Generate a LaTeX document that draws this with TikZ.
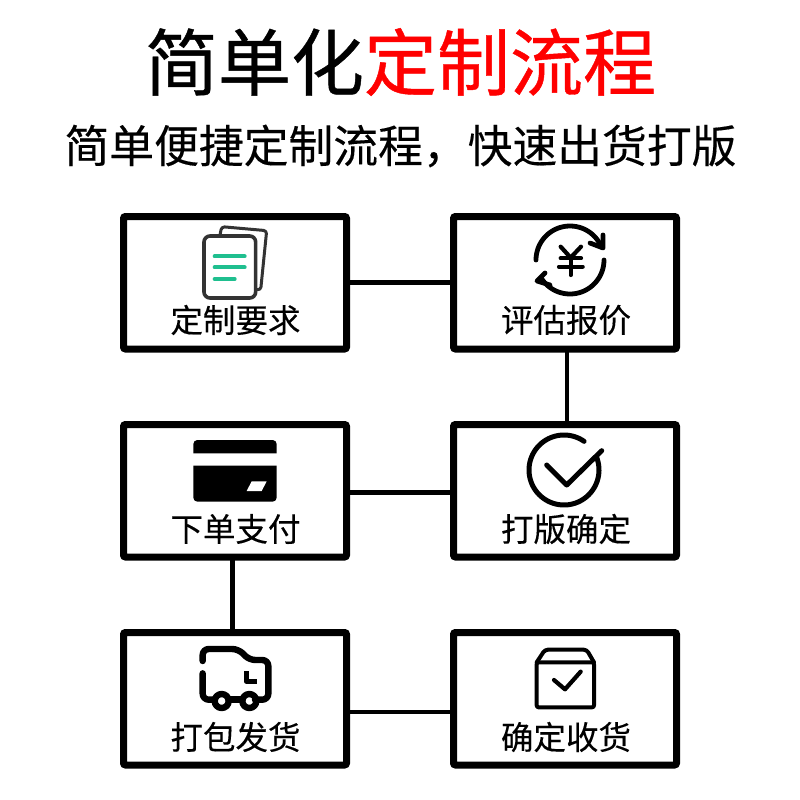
\documentclass[tikz,border=0pt]{standalone}
\usepackage{fontspec}
\newfontfamily\cjk[FakeBold=0.25]{Noto Sans CJK SC}
\newfontfamily\cjkmid[FakeBold=0.6]{Noto Sans CJK SC}
\definecolor{docgray}{HTML}{333333}
\definecolor{docgreen}{HTML}{1FBF8F}
\tikzset{
  card box/.style={draw=black,fill=white,line width=7pt,rounded corners=2pt,minimum width=223pt,minimum height=132.5pt,inner sep=0pt,outer sep=0pt,anchor=north west},
  link/.style={line width=4.6pt,black},
  lbl/.style={font=\cjk\fontsize{32.5}{34}\selectfont,inner sep=0pt,anchor=center},
  zoomA/.style={x=0.33333pt,y=-0.33333pt},
  ico/.style={line cap=round,line join=round}
}
\begin{document}
\begin{tikzpicture}[x=1pt,y=-1pt]
\useasboundingbox (0,0) rectangle (800,800);
\fill[white] (0,0) rectangle (800,800);
\node[inner sep=0pt,font=\cjkmid\fontsize{73}{76}\selectfont] (title) at (400.5,62) {简单化\textcolor{red}{定制流程}};
\node[inner sep=0pt,font=\cjk\fontsize{44.8}{48}\selectfont] (sub) at (400.5,146) {简单便捷定制流程，快速出货打版};
\node[card box] (b1) at (123.5,216.5) {};
\node[card box] (b2) at (453.5,216.5) {};
\node[card box] (b3) at (123.5,424.5) {};
\node[card box] (b4) at (453.5,424.5) {};
\node[card box] (b5) at (123.5,632.5) {};
\node[card box] (b6) at (453.5,632.5) {};
\draw[link] (b1.east) -- (b2.west);
\draw[link] ([xshift=2pt]b2.south) -- ([xshift=2pt]b4.north);
\draw[link] ([yshift=-2pt]b3.east) -- ([yshift=-2pt]b4.west);
\draw[link] ([xshift=-2.3pt]b3.south) -- ([xshift=-2.3pt]b5.north);
\draw[link] ([yshift=-13.3pt]b5.east) -- ([yshift=-13.3pt]b6.west);
\node[lbl] (l1) at (235.5,320) {定制要求};
\node[lbl] (l2) at (566,320) {评估报价};
\node[lbl] (l3) at (235.5,529) {下单支付};
\node[lbl] (l4) at (566,529) {打版确定};
\node[lbl] (l5) at (235.5,737) {打包发货};
\node[lbl] (l6) at (566,737) {确定收货};
% document icon
\begin{scope}[shift={(120,210)},zoomA,ico]
\draw[docgray,line width=3pt,rounded corners=3pt] (300,75) -- (305,50) -- (440,62) -- (422,240) -- (405,238);
\draw[docgray,fill=white,line width=3.6pt,rounded corners=6pt] (252,78) rectangle (407,264);
\draw[docgreen,line width=4pt] (284,139) -- (374,139) (284,172) -- (374,172) (284,207) -- (344,207);
\end{scope}
% yen icon
\begin{scope}[ico,line width=4.8pt]
\draw plot[domain=180:330,samples=40] ({570+34*cos(\x)},{260+34*sin(\x)});
\draw plot[domain=0:147,samples=40] ({570+34*cos(\x)},{260+34*sin(\x)});
\draw (590,243) -- (603,248) -- (603,235);
\draw (545,273) -- (537,281) -- (550,285);
\end{scope}
\begin{scope}[shift={(450,210)},zoomA,ico,line width=4.2pt]
\draw (332,110) -- (362,143) -- (393,110);
\draw (332,145) -- (393,145) (327,170) -- (398,170) (362,145) -- (362,195);
\end{scope}
% bank card icon
\begin{scope}[shift={(120,420)},zoomA]
\fill[black] (220,100) [rounded corners=4pt] -- (220,60) -- (470,60) [sharp corners] -- (470,100) -- cycle;
\fill[black] (220,137) -- (470,137) [rounded corners=4pt] -- (470,245) -- (220,245) [sharp corners] -- cycle;
\fill[white] (380,213) -- (395,184) -- (440,184) -- (425,213) -- cycle;
\end{scope}
% check circle icon
\begin{scope}[ico,line width=5pt]
\draw plot[domain=-20:305,samples=80] ({564+35*cos(\x)},{470+35*sin(\x)});
\draw (546.7,465) -- (566.7,485) -- (601.7,450.7);
\end{scope}
% truck icon
\begin{scope}[shift={(120,625)},zoomA,ico,line width=6.4pt]
\draw[rounded corners=6pt] (248,108) -- (248,72) -- (355,72) -- (388,105) -- (445,105) -- (445,224) -- (405,224);
\draw[rounded corners=6pt] (248,145) -- (248,224) -- (285,224);
\draw (325,224) -- (368,224);
\draw (305,228) circle[radius=21];
\draw (388,228) circle[radius=21];
\draw[line width=5pt,line cap=butt] (378,138) -- (378,168) -- (410,168);
\end{scope}
% box icon
\begin{scope}[shift={(450,625)},zoomA,ico,line width=4pt]
\draw[rounded corners=2pt] (260,112) -- (432,112) -- (432,247) -- (260,247) -- cycle;
\draw[rounded corners=3pt] (260,112) -- (285,74) -- (410,74) -- (432,112);
\draw[line width=4.2pt] (312,165) -- (345,193) -- (392,140);
\end{scope}
\end{tikzpicture}
\end{document}
